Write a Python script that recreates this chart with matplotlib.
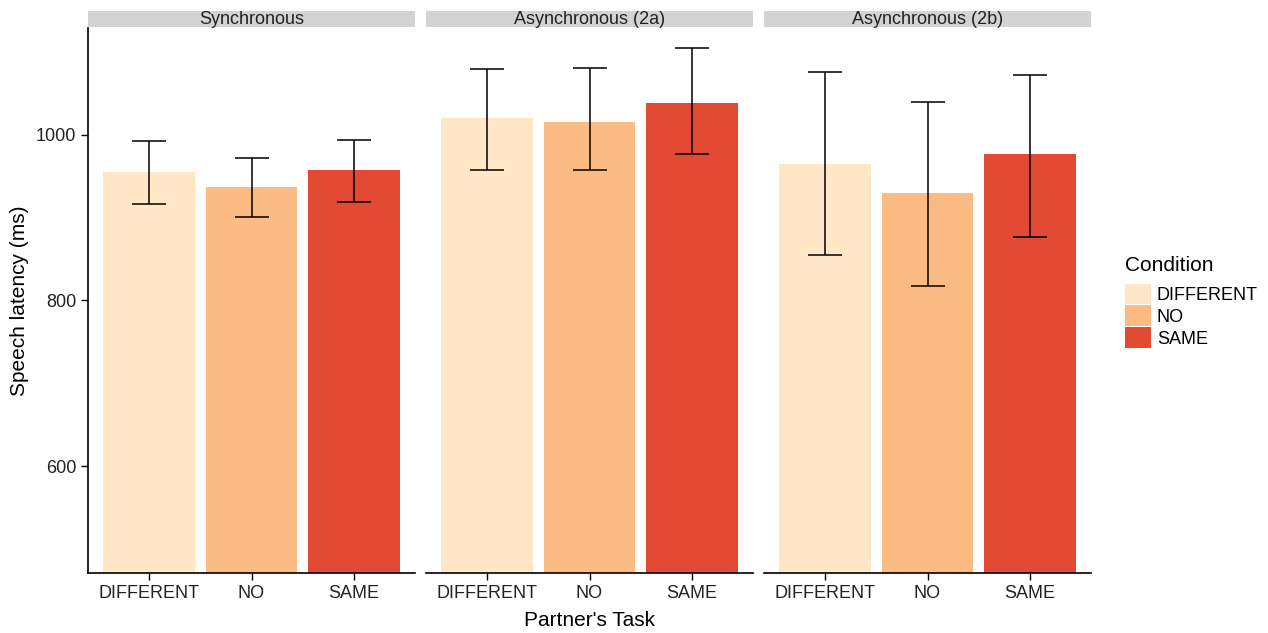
import numpy as np
import matplotlib
matplotlib.use("Agg")
import matplotlib.pyplot as plt
from matplotlib.patches import Patch

plt.rcParams['font.family'] = ['Liberation Sans', 'DejaVu Sans']

# data
panels = ['Synchronous', 'Asynchronous (2a)', 'Asynchronous (2b)']
conditions = ['DIFFERENT', 'NO', 'SAME']
colors = ['#FEE6C6', '#FDBB84', '#E34A33']

means = [
    [955, 937, 957],
    [1020, 1016, 1039],
    [965, 930, 977],
]
err_low = [
    [917, 901, 919],
    [957, 958, 977],
    [855, 818, 877],
]
err_high = [
    [992, 972, 994],
    [1080, 1081, 1105],
    [1076, 1040, 1072],
]

W, H = 1268, 633
fig = plt.figure(figsize=(W / 100, H / 100), dpi=100)

ax_bottom, ax_top = 573, 28
lefts = [88, 426, 764]
pw = 327
ymin, ymax = 471, 1129

x = np.arange(len(conditions))
for i, name in enumerate(panels):
    ax = fig.add_axes([lefts[i] / W, 1 - ax_bottom / H, pw / W, (ax_bottom - ax_top) / H])
    m = np.array(means[i])
    lo = m - np.array(err_low[i])
    hi = np.array(err_high[i]) - m
    ax.bar(x, m - ymin, bottom=ymin, width=0.9, color=colors)
    ax.errorbar(x, m, yerr=[lo, hi], fmt='none', ecolor='black', elinewidth=1.1,
                capsize=12, capthick=1.1)
    ax.set_xlim(-0.6, 2.6)
    ax.set_ylim(ymin, ymax)
    ax.set_xticks(x)
    ax.set_xticklabels(conditions, fontsize=13, color='#222222')
    for s in ['top', 'right']:
        ax.spines[s].set_visible(False)
    ax.spines['bottom'].set_linewidth(1.2)
    if i == 0:
        ax.set_yticks([600, 800, 1000])
        ax.tick_params(axis='y', labelsize=13, labelcolor='#222222', length=5, width=1)
        ax.spines['left'].set_linewidth(1.2)
        ax.set_ylabel('Speech latency (ms)', fontsize=15, labelpad=5)
    else:
        ax.spines['left'].set_visible(False)
        ax.set_yticks([])
    ax.tick_params(axis='x', length=5, width=1)

    # strip label
    sax = fig.add_axes([lefts[i] / W, 1 - 27 / H, pw / W, 16 / H])
    sax.set_facecolor('#D3D3D3')
    sax.set_xticks([])
    sax.set_yticks([])
    for s in sax.spines.values():
        s.set_visible(False)
    sax.text(0.5, 0.45, name, ha='center', va='center', fontsize=13,
             color='#222222', transform=sax.transAxes)

fig.text(590 / W, 1 - 620 / H, "Partner's Task", ha='center', va='center', fontsize=15)

handles = [Patch(facecolor=c, edgecolor='none') for c in colors]
leg = fig.legend(handles, conditions, title='Condition', loc='upper left',
                 bbox_to_anchor=(1109 / W, 1 - 240 / H), frameon=False,
                 fontsize=13, title_fontsize=15, handlelength=1.4, handleheight=1.4,
                 handletextpad=0.35, labelspacing=0.05)
leg._legend_box.align = 'left'
leg._legend_box.sep = 6

fig.savefig('out.png', dpi=100)
